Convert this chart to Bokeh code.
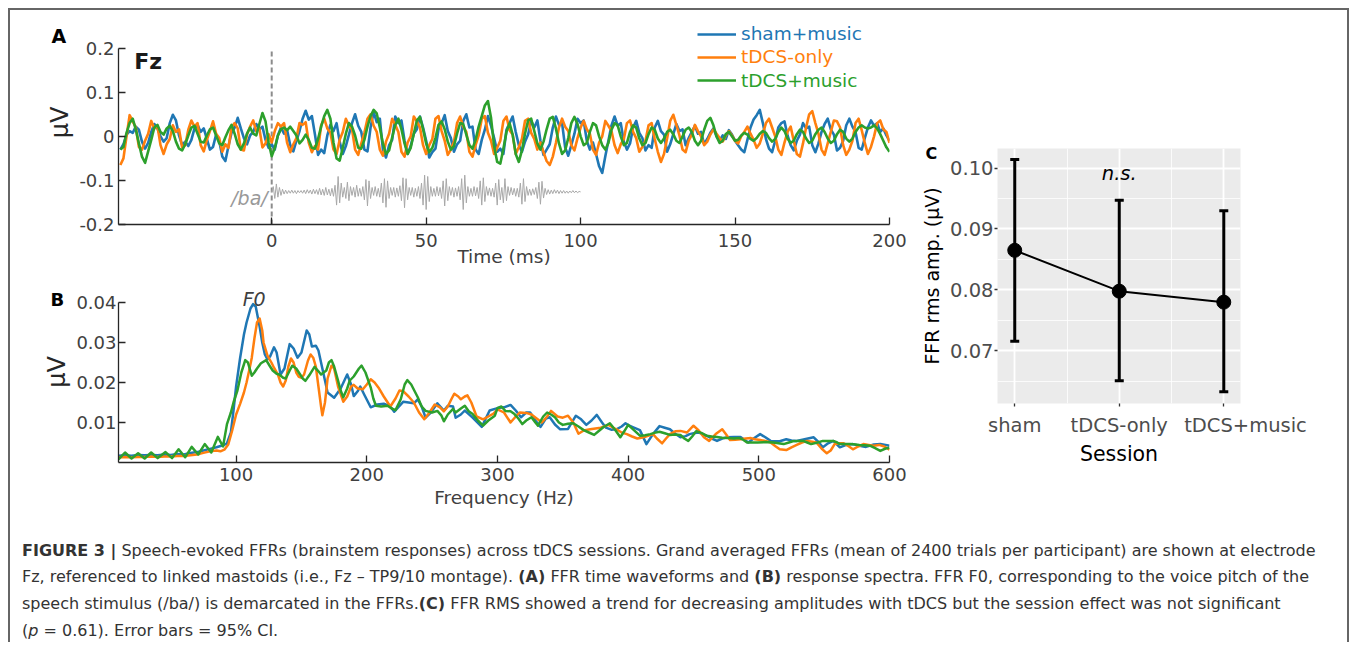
from bokeh.plotting import figure
from bokeh.models import (FixedTicker, CustomJSTickFormatter, PrintfTickFormatter, Legend, LegendItem,
                          Label, Whisker, TeeHead, Div, Range1d, ColumnDataSource)
from bokeh.layouts import row, column
from bokeh.embed import file_html
from bokeh.resources import INLINE

# ----------------------------------------------------------------- data
SERIES = ["sham+music", "tDCS-only", "tDCS+music"]
COLORS = ["#1f77b4", "#ff7f0e", "#2ca02c"]

# Panel A: grand-averaged FFR waveforms (uV), 1 ms samples from -49 to 200 ms
TIME_MS = list(range(-49, 201))
WAVE_SHAM = [
    -0.030, -0.018, 0.004, 0.012, 0.008, 0.022, 0.015, -0.012, -0.028, -0.015,
    0.010, 0.028, 0.018, 0.000, -0.012, -0.004, 0.030, 0.049, 0.036, 0.002,
    -0.020, -0.012, -0.022, -0.008, 0.018, 0.026, 0.010, 0.018, -0.006, -0.030,
    -0.024, 0.004, -0.010, -0.046, -0.056, -0.022, 0.008, 0.020, 0.042, 0.018,
    -0.004, -0.018, 0.002, 0.010, 0.028, 0.016, 0.022, -0.008, -0.026, -0.018,
    -0.030, 0.002, 0.020, 0.006, 0.014, -0.020, -0.034, -0.010, 0.012, 0.040,
    0.058, 0.038, 0.046, 0.004, -0.042, -0.030, -0.038, 0.002, 0.026, 0.012,
    0.030, -0.012, -0.040, -0.022, 0.004, 0.030, 0.050, 0.024, 0.010, -0.030,
    -0.034, 0.020, 0.055, 0.032, 0.040, -0.030, -0.048, -0.020, -0.008, 0.045,
    0.030, 0.036, -0.010, -0.040, -0.022, 0.006, 0.016, 0.045, 0.020, -0.010,
    -0.048, -0.036, -0.028, 0.016, 0.030, 0.048, 0.012, -0.004, -0.035, -0.018,
    -0.010, 0.035, 0.050, 0.020, 0.022, -0.030, -0.040, -0.008, 0.015, 0.046,
    0.024, -0.004, -0.035, -0.028, -0.040, 0.015, 0.030, 0.045, 0.010, -0.020,
    -0.035, -0.012, 0.004, 0.035, 0.020, 0.036, -0.010, -0.042, -0.030, -0.018,
    0.020, 0.045, 0.026, 0.030, -0.025, -0.044, -0.020, 0.006, 0.040, 0.030,
    0.036, -0.010, -0.030, -0.014, -0.040, -0.068, -0.083, -0.045, -0.010, 0.025,
    0.045, 0.024, 0.030, -0.012, -0.030, -0.016, 0.020, 0.035, 0.008, -0.004,
    -0.032, -0.020, -0.026, 0.020, 0.035, 0.012, 0.004, -0.035, -0.018, 0.005,
    0.028, 0.012, 0.016, -0.020, -0.004, 0.010, 0.024, 0.006, 0.010, -0.018,
    -0.006, 0.008, 0.018, 0.000, -0.010, 0.002, -0.006, 0.014, 0.004, -0.010,
    -0.020, -0.030, -0.036, -0.008, 0.020, 0.038, 0.048, 0.060, 0.030, -0.006,
    -0.028, -0.036, -0.010, 0.020, 0.030, 0.034, 0.002, -0.020, -0.032, -0.010,
    0.004, 0.030, 0.018, 0.022, -0.020, -0.036, -0.016, 0.010, 0.028, 0.040,
    0.016, 0.004, -0.032, -0.026, -0.010, 0.025, 0.040, 0.022, 0.010, -0.026,
    -0.030, -0.004, 0.020, 0.036, 0.024, 0.030, 0.010, 0.018, 0.002, -0.010,
]
WAVE_TDCS = [
    -0.065, -0.050, 0.000, 0.048, 0.034, 0.020, -0.024, -0.030, -0.010, 0.006,
    0.035, 0.018, 0.024, -0.020, -0.040, -0.018, -0.006, 0.025, 0.010, 0.016,
    -0.025, -0.020, 0.015, 0.036, 0.022, 0.030, -0.020, -0.034, -0.008, 0.012,
    0.034, 0.006, -0.004, -0.035, -0.018, -0.026, 0.020, 0.030, 0.018, -0.030,
    -0.032, 0.004, 0.022, 0.036, 0.012, 0.018, -0.025, -0.016, 0.005, -0.014,
    0.012, 0.030, 0.022, 0.030, -0.015, -0.036, -0.018, -0.004, 0.030, 0.026,
    0.032, -0.015, -0.036, -0.022, -0.030, 0.025, 0.040, 0.018, 0.008, -0.030,
    -0.040, -0.008, 0.010, 0.040, 0.024, 0.016, -0.030, -0.042, -0.016, 0.008,
    0.040, 0.050, 0.024, 0.010, -0.030, -0.044, -0.012, 0.006, 0.040, 0.026,
    0.010, -0.035, -0.046, -0.014, 0.000, 0.045, 0.034, 0.020, -0.020, -0.040,
    -0.020, -0.006, 0.040, 0.046, 0.012, -0.010, -0.042, -0.030, -0.012, 0.030,
    0.045, 0.022, 0.010, -0.035, -0.046, -0.020, 0.002, 0.040, 0.046, 0.008,
    -0.010, -0.040, -0.026, -0.010, 0.035, 0.045, 0.014, 0.004, -0.040, -0.024,
    -0.006, 0.035, 0.040, 0.008, -0.006, -0.030, -0.014, -0.036, -0.056, -0.065,
    -0.046, -0.015, 0.020, 0.040, 0.022, 0.012, -0.020, -0.032, -0.004, 0.020,
    0.035, 0.016, 0.006, -0.030, -0.042, -0.014, 0.000, 0.035, 0.024, 0.012,
    -0.020, -0.038, -0.018, -0.006, 0.030, 0.036, 0.010, -0.004, -0.035, -0.024,
    -0.010, 0.025, 0.030, -0.006, -0.035, -0.058, -0.040, -0.005, 0.035, 0.049,
    0.026, 0.002, -0.030, -0.036, -0.010, 0.004, 0.026, 0.012, 0.000, -0.020,
    -0.012, 0.004, 0.016, 0.006, -0.004, -0.012, 0.002, 0.012, 0.002, -0.010,
    -0.016, 0.000, 0.010, 0.022, 0.006, -0.008, -0.026, -0.016, 0.006, 0.030,
    0.040, 0.020, 0.000, -0.030, -0.042, -0.014, 0.010, 0.022, -0.010, -0.040,
    -0.046, -0.016, 0.020, 0.050, 0.057, 0.030, 0.006, -0.030, -0.042, -0.016,
    0.010, 0.036, 0.034, 0.020, -0.020, -0.042, -0.030, -0.010, 0.030, 0.040,
    0.014, -0.015, -0.040, -0.024, 0.000, 0.030, 0.036, 0.016, 0.010, -0.015,
]
WAVE_TDCS_MUSIC = [
    -0.030, -0.024, 0.008, 0.030, 0.040, 0.016, -0.016, -0.046, -0.060, -0.034,
    -0.008, 0.020, 0.026, 0.010, 0.004, 0.018, 0.024, 0.012, -0.012, -0.028,
    -0.032, -0.018, 0.002, 0.020, 0.024, 0.006, -0.012, -0.014, 0.002, 0.016,
    0.020, 0.002, -0.016, -0.020, -0.002, 0.014, 0.026, 0.006, -0.018, -0.030,
    -0.016, 0.006, 0.020, 0.006, 0.002, 0.028, 0.053, 0.034, -0.014, -0.045,
    -0.026, 0.002, 0.016, 0.020, 0.014, 0.022, 0.012, 0.002, -0.016, -0.008,
    0.004, -0.008, -0.026, -0.028, -0.006, 0.022, 0.046, 0.060, 0.040, -0.014,
    -0.050, -0.055, -0.026, 0.006, 0.030, 0.022, 0.002, -0.026, -0.028, -0.008,
    0.022, 0.046, 0.060, 0.052, 0.020, -0.016, -0.040, -0.032, -0.002, 0.026,
    0.040, 0.016, -0.016, -0.040, -0.026, 0.006, 0.036, 0.044, 0.016, -0.016,
    -0.036, -0.026, -0.004, 0.026, 0.034, 0.016, -0.012, -0.030, -0.022, 0.006,
    0.030, 0.028, 0.004, -0.020, -0.028, -0.008, 0.022, 0.046, 0.070, 0.080,
    0.042, -0.022, -0.058, -0.062, -0.028, 0.010, 0.030, 0.004, -0.040, -0.058,
    -0.032, 0.006, 0.036, 0.040, 0.012, -0.016, -0.030, -0.012, 0.016, 0.040,
    0.044, 0.018, -0.016, -0.040, -0.032, -0.004, 0.030, 0.044, 0.028, 0.000,
    -0.020, -0.015, 0.010, 0.030, 0.025, 0.000, -0.020, -0.030, -0.015, 0.015,
    0.030, 0.025, 0.000, -0.020, -0.015, 0.010, 0.025, 0.020, -0.005, -0.020,
    -0.015, 0.005, 0.020, 0.015, -0.005, -0.015, -0.005, 0.010, 0.015, 0.005,
    -0.010, -0.015, 0.000, 0.015, 0.020, 0.010, -0.010, -0.020, -0.010, 0.015,
    0.035, 0.042, 0.025, 0.000, -0.015, -0.010, 0.005, 0.010, 0.000, -0.010,
    -0.008, 0.002, 0.008, 0.004, -0.006, -0.010, -0.004, 0.006, 0.012, 0.008,
    -0.004, -0.012, -0.006, 0.010, 0.020, 0.012, -0.005, -0.015, -0.010, 0.005,
    0.015, 0.010, -0.005, -0.015, -0.010, 0.005, 0.015, 0.020, 0.010, -0.005,
    -0.015, -0.010, 0.005, 0.015, 0.010, -0.005, -0.012, -0.005, 0.010, 0.020,
    0.025, 0.020, 0.018, 0.020, 0.025, 0.018, 0.005, -0.010, -0.025, -0.035,
]

# /ba/ stimulus waveform (arbitrary amplitude), 0.5 ms samples from 0 to 100 ms
STIM_TIME_MS = [k * 0.5 for k in range(201)]
STIM_WAVE = [
    0.000, 0.012, -0.015, 0.018, -0.012, 0.010, -0.008, 0.006, -0.005, 0.004,
    -0.004, 0.003, -0.003, 0.004, -0.003, 0.003, -0.004, 0.003, -0.002, 0.003,
    -0.003, 0.004, -0.004, 0.005, -0.003, 0.004, -0.005, 0.006, -0.004, 0.005,
    -0.006, 0.008, -0.007, 0.006, -0.008, 0.010, -0.007, 0.006, -0.009, 0.008,
    -0.010, 0.015, -0.030, 0.035, -0.025, 0.020, -0.012, 0.010, -0.015, 0.022,
    -0.020, 0.012, -0.008, 0.010, -0.012, 0.015, -0.010, 0.008, -0.010, 0.012,
    -0.018, 0.028, -0.032, 0.025, -0.015, 0.010, -0.008, 0.012, -0.010, 0.008,
    -0.012, 0.020, -0.025, 0.030, -0.035, 0.025, -0.015, 0.010, -0.008, 0.010,
    -0.012, 0.009, -0.010, 0.014, -0.020, 0.032, -0.036, 0.030, -0.018, 0.010,
    -0.008, 0.010, -0.012, 0.008, -0.010, 0.012, -0.015, 0.020, -0.030, 0.038,
    -0.040, 0.035, -0.022, 0.012, -0.010, 0.008, -0.010, 0.012, -0.009, 0.010,
    -0.015, 0.025, -0.032, 0.030, -0.020, 0.012, -0.008, 0.010, -0.012, 0.009,
    -0.010, 0.012, -0.018, 0.030, -0.040, 0.038, -0.025, 0.012, -0.010, 0.008,
    -0.010, 0.012, -0.009, 0.010, -0.015, 0.025, -0.030, 0.032, -0.022, 0.012,
    -0.008, 0.009, -0.010, 0.008, -0.012, 0.020, -0.030, 0.028, -0.018, 0.010,
    -0.025, 0.030, -0.020, 0.012, -0.008, 0.010, -0.007, 0.008, -0.010, 0.008,
    -0.012, 0.020, -0.028, 0.030, -0.022, 0.012, -0.008, 0.006, -0.008, 0.007,
    -0.006, 0.010, -0.015, 0.022, -0.028, 0.024, -0.014, 0.008, -0.006, 0.005,
    -0.005, 0.004, -0.004, 0.005, -0.003, 0.004, -0.004, 0.003, -0.003, 0.003,
    -0.003, 0.002, -0.003, 0.002, -0.002, 0.003, -0.002, 0.002, -0.002, 0.001,
    0.000,
]

# Panel B: response spectra, (frequency Hz, amplitude uV)
SPEC_SHAM = [
    (10, .0017), (15, .0018), (20, .0017), (25, .0019), (30, .0018), (35, .0019), (40, .0018), (45, .0020),
    (50, .0019), (55, .0021), (60, .0020), (65, .0024), (70, .0026), (75, .0030), (80, .0034), (85, .0038),
    (90, .0043), (93, .0048), (96, .0075), (98, .0130), (100, .0190), (103, .0260), (106, .0320), (108, .0350),
    (111, .0385), (113, .0396), (115, .0390), (118, .0340), (120, .0300), (122, .0270), (124, .0258), (126, .0265),
    (129, .0288), (131, .0275), (134, .0220), (137, .0235), (141, .0296), (144, .0285), (147, .0262), (150, .0275),
    (154, .0330), (156, .0320), (158, .0290), (161, .0292), (163, .0280), (166, .0235), (170, .0175), (175, .0162),
    (180, .0185), (185, .0220), (188, .0195), (190, .0166), (193, .0178), (195, .0190), (198, .0170), (203, .0138),
    (208, .0145), (213, .0147), (218, .0140), (221, .0127), (224, .0138), (228, .0152), (232, .0150), (236, .0148),
    (239, .0158), (242, .0140), (245, .0112), (249, .0125), (254, .0148), (259, .0130), (262, .0142), (266, .0140),
    (268, .0112), (272, .0120), (275, .0130), (281, .0112), (288, .0089), (294, .0130), (300, .0136), (305, .0138),
    (310, .0144), (314, .0130), (318, .0113), (322, .0125), (325, .0125), (329, .0105), (333, .0089), (337, .0110),
    (340, .0113), (344, .0095), (348, .0083), (354, .0084), (360, .0117), (364, .0108), (368, .0094), (372, .0105),
    (376, .0119), (380, .0100), (383, .0087), (387, .0082), (391, .0083), (395, .0090), (398, .0098), (401, .0092),
    (404, .0088), (409, .0081), (414, .0046), (419, .0071), (424, .0091), (428, .0087), (432, .0083), (436, .0072),
    (440, .0063), (444, .0066), (447, .0071), (451, .0074), (454, .0075), (457, .0070), (460, .0067), (464, .0060),
    (468, .0054), (472, .0060), (476, .0063), (481, .0064), (486, .0064), (492, .0050), (496, .0060), (501, .0071),
    (505, .0063), (509, .0054), (516, .0053), (521, .0058), (525, .0055), (529, .0054), (535, .0058), (542, .0063),
    (546, .0050), (549, .0038), (553, .0048), (557, .0054), (562, .0038), (567, .0044), (572, .0046), (577, .0042),
    (582, .0039), (588, .0045), (593, .0046), (597, .0044), (600, .0042),
]
SPEC_TDCS = [
    (10, .0013), (15, .0014), (20, .0013), (25, .0014), (30, .0014), (35, .0015), (40, .0014), (45, .0015),
    (50, .0015), (55, .0016), (60, .0016), (65, .0018), (70, .0020), (75, .0024), (80, .0028), (85, .0030),
    (88, .0028), (91, .0032), (94, .0045), (97, .0080), (100, .0120), (103, .0146), (106, .0175), (108, .0200),
    (110, .0230), (112, .0262), (114, .0310), (116, .0350), (118, .0360), (120, .0330), (121, .0300), (124, .0267),
    (127, .0250), (129, .0237), (132, .0220), (134, .0200), (136, .0190), (138, .0205), (140, .0240), (142, .0260),
    (144, .0250), (146, .0225), (148, .0214), (150, .0212), (152, .0220), (155, .0255), (157, .0270), (159, .0262),
    (161, .0240), (163, .0190), (165, .0140), (166, .0118), (168, .0150), (170, .0210), (173, .0242), (175, .0235),
    (178, .0190), (182, .0152), (185, .0165), (188, .0190), (190, .0194), (193, .0185), (197, .0183), (200, .0195),
    (203, .0208), (206, .0200), (209, .0187), (213, .0165), (218, .0140), (222, .0160), (225, .0180), (228, .0178),
    (232, .0165), (236, .0150), (240, .0125), (244, .0108), (248, .0125), (252, .0145), (256, .0138), (259, .0128),
    (262, .0140), (265, .0160), (267, .0172), (270, .0165), (272, .0158), (275, .0165), (277, .0168), (280, .0150),
    (284, .0115), (289, .0108), (293, .0115), (297, .0122), (300, .0133), (305, .0125), (310, .0100), (314, .0115),
    (317, .0125), (322, .0124), (326, .0120), (330, .0110), (334, .0100), (338, .0115), (341, .0129), (346, .0115),
    (350, .0112), (354, .0117), (358, .0100), (362, .0072), (366, .0080), (371, .0083), (375, .0085), (379, .0087),
    (385, .0094), (388, .0088), (391, .0083), (395, .0075), (399, .0071), (403, .0065), (407, .0060), (410, .0062),
    (413, .0064), (419, .0071), (422, .0060), (426, .0048), (429, .0060), (432, .0071), (436, .0078), (440, .0079),
    (445, .0075), (450, .0092), (454, .0080), (458, .0063), (462, .0054), (467, .0071), (472, .0083), (475, .0070),
    (478, .0056), (482, .0057), (486, .0058), (490, .0060), (494, .0061), (497, .0058), (501, .0056), (505, .0054),
    (509, .0050), (513, .0040), (516, .0033), (521, .0031), (525, .0038), (529, .0044), (533, .0050), (537, .0054),
    (541, .0052), (544, .0050), (548, .0035), (552, .0023), (555, .0030), (558, .0046), (562, .0048), (565, .0048),
    (569, .0040), (572, .0033), (576, .0040), (580, .0046), (584, .0044), (588, .0042), (592, .0044), (596, .0040),
    (600, .0032),
]
SPEC_TDCS_MUSIC = [
    (10, .0008), (15, .0025), (20, .0010), (25, .0023), (30, .0010), (35, .0025), (40, .0011), (46, .0026),
    (51, .0011), (56, .0033), (61, .0013), (66, .0039), (71, .0020), (76, .0046), (81, .0025), (86, .0064),
    (90, .0040), (93, .0096), (96, .0125), (98, .0150), (101, .0180), (104, .0225), (107, .0256), (109, .0250),
    (112, .0217), (114, .0225), (116, .0235), (119, .0248), (123, .0256), (126, .0240), (128, .0230), (131, .0222),
    (133, .0220), (136, .0212), (138, .0210), (141, .0230), (143, .0242), (146, .0235), (148, .0225), (151, .0210),
    (153, .0204), (156, .0218), (160, .0239), (163, .0228), (165, .0220), (169, .0230), (171, .0250), (173, .0256),
    (175, .0240), (178, .0205), (180, .0180), (182, .0163), (185, .0185), (187, .0205), (190, .0215), (194, .0235),
    (196, .0242), (199, .0225), (203, .0188), (205, .0160), (207, .0142), (211, .0140), (216, .0142), (219, .0135),
    (222, .0131), (226, .0158), (229, .0195), (231, .0206), (234, .0195), (239, .0163), (242, .0140), (245, .0129),
    (250, .0125), (254, .0129), (257, .0118), (259, .0103), (262, .0120), (266, .0134), (268, .0125), (272, .0135),
    (275, .0142), (278, .0128), (281, .0121), (285, .0105), (289, .0092), (293, .0105), (298, .0117), (300, .0136),
    (303, .0140), (306, .0129), (310, .0128), (313, .0121), (316, .0110), (319, .0096), (322, .0105), (326, .0113),
    (329, .0100), (331, .0092), (335, .0115), (338, .0125), (341, .0120), (344, .0113), (347, .0100), (350, .0094),
    (354, .0097), (358, .0098), (362, .0090), (366, .0081), (370, .0075), (374, .0069), (378, .0080), (381, .0088),
    (386, .0098), (390, .0082), (394, .0063), (397, .0078), (400, .0094), (404, .0082), (409, .0067), (413, .0068),
    (417, .0071), (420, .0074), (424, .0077), (428, .0073), (432, .0069), (436, .0070), (440, .0069), (443, .0060),
    (446, .0054), (449, .0065), (452, .0078), (456, .0074), (460, .0067), (464, .0065), (468, .0064), (472, .0062),
    (476, .0061), (481, .0060), (485, .0061), (488, .0057), (491, .0050), (495, .0050), (499, .0050), (505, .0051),
    (511, .0050), (515, .0048), (519, .0046), (523, .0050), (526, .0053), (530, .0054), (534, .0054), (537, .0050),
    (540, .0046), (545, .0050), (549, .0054), (553, .0054), (557, .0054), (560, .0050), (562, .0046), (566, .0046),
    (570, .0046), (574, .0045), (577, .0044), (581, .0043), (585, .0042), (589, .0036), (593, .0029), (597, .0035),
    (600, .0037),
]

# Panel C: FFR RMS amplitude by session (uV), 95% CI
SESSIONS = ["sham", "tDCS-only", "tDCS+music"]
SESSION_POS = [1, 2, 3]
RMS_MEAN = [0.0865, 0.0798, 0.0780]
RMS_CI_LOW = [0.0716, 0.0651, 0.0633]
RMS_CI_HIGH = [0.1014, 0.0947, 0.0930]

A_XTICKS = [0, 50, 100, 150, 200]
A_YTICKS = [-0.2, -0.1, 0, 0.1, 0.2]
B_XTICKS = [100, 200, 300, 400, 500, 600]
B_YTICKS = [0.01, 0.02, 0.03, 0.04]
C_YTICKS = [0.07, 0.08, 0.09, 0.10]
C_YMINOR = [0.065, 0.075, 0.085, 0.095]

# ----------------------------------------------------------------- styling
FONT = "DejaVu Sans"
AXIS_COL = "#262626"
TICK_TXT = "#404040"


def matlab_axes(p, ylab, xlab, y_standoff, x_standoff, ylab_standoff, xlab_standoff, ybounds):
    for ax in (p.xaxis[0], p.yaxis[0]):
        ax.axis_line_color = AXIS_COL
        ax.axis_line_width = 1.3
        ax.major_tick_line_color = AXIS_COL
        ax.major_tick_line_width = 1.3
        ax.major_tick_in = 7
        ax.major_tick_out = 0
        ax.minor_tick_line_color = None
        ax.major_label_text_font = FONT
        ax.major_label_text_font_size = "18px"
        ax.major_label_text_color = TICK_TXT
        ax.axis_label_text_font = FONT
        ax.axis_label_text_font_style = "normal"
        ax.axis_label_text_color = TICK_TXT
    p.yaxis[0].bounds = ybounds
    p.yaxis[0].axis_label = ylab
    p.yaxis[0].axis_label_text_font_size = "24px"
    p.yaxis[0].axis_label_text_color = AXIS_COL
    p.xaxis[0].axis_label = xlab
    p.xaxis[0].axis_label_text_font_size = "18.5px"
    p.yaxis[0].major_label_standoff = y_standoff
    p.xaxis[0].major_label_standoff = x_standoff
    p.yaxis[0].axis_label_standoff = ylab_standoff
    p.xaxis[0].axis_label_standoff = xlab_standoff
    p.grid.visible = False


def panel_letter(p, size, offset, standoff):
    t = p.title
    t.text_font = FONT
    t.text_font_size = size
    t.text_font_style = "bold"
    t.text_color = "black"
    t.align = "left"
    t.offset = offset
    t.standoff = standoff


# ----------------------------------------------------------------- panel A
# frame extends above 0.2 so that the legend and labels are inside it; axis bounded to [-0.2, 0.2]
pA = figure(width=899, height=260, x_range=Range1d(-49.6, 200), y_range=Range1d(-0.2, 0.2628),
            title="A", output_backend="svg", toolbar_location=None, min_border_left=107,
            min_border_right=20, min_border_top=10, min_border_bottom=46, outline_line_color=None)
matlab_axes(pA, "μV", "Time (ms)", 4, 9, 2, -4, (-0.2, 0.2))
pA.xaxis.ticker = FixedTicker(ticks=A_XTICKS)
pA.yaxis.ticker = FixedTicker(ticks=A_YTICKS)
pA.yaxis.formatter = CustomJSTickFormatter(code="return Math.abs(tick) < 1e-9 ? '0' : tick.toFixed(1);")
panel_letter(pA, "19px", -67, -53)

STIM_ONSET = 0
pA.segment(x0=[STIM_ONSET], y0=[-0.2], x1=[STIM_ONSET], y1=[0.193], line_color="#8c8c8c",
           line_width=2, line_dash="5 3")
STIM_BASELINE = -0.126
pA.line(STIM_TIME_MS, [STIM_BASELINE + v for v in STIM_WAVE], line_color="#a8a8a8", line_width=1)

rendsA = []
for wave, col in zip([WAVE_SHAM, WAVE_TDCS, WAVE_TDCS_MUSIC], COLORS):
    rendsA.append(pA.line(TIME_MS, wave, line_color=col, line_width=2.6, line_join="round"))

LEG_VY = [180, 156.6, 133.3]
for r, name, col, vy in zip(rendsA, SERIES, COLORS, LEG_VY):
    pA.add_layout(Legend(items=[LegendItem(label=name, renderers=[r])], location=(579, vy),
                         label_text_color=col, label_text_font=FONT, label_text_font_size="18.5px",
                         glyph_width=39, glyph_height=20, label_height=20, label_standoff=5,
                         padding=0, margin=0, spacing=0, border_line_color=None,
                         background_fill_alpha=0))

pA.add_layout(Label(x=-44.5, y=0.170, text="Fz", text_font=FONT, text_font_size="22px",
                    text_font_style="bold", text_color="#1a1a1a", text_baseline="alphabetic"))
pA.add_layout(Label(x=-1.3, y=-0.139, text="/ba/", text_font=FONT, text_font_size="19px",
                    text_font_style="italic", text_color="#999999", text_align="right",
                    text_baseline="alphabetic"))

# ----------------------------------------------------------------- panel B
pB = figure(width=899, height=242, x_range=Range1d(10, 600), y_range=Range1d(0, 0.04525),
            title="B", output_backend="svg", toolbar_location=None, min_border_left=108,
            min_border_right=19, min_border_top=11, min_border_bottom=50, outline_line_color=None)
matlab_axes(pB, "μV", "Frequency (Hz)", 2, 5, 2, 3, (0, 0.04))
pB.xaxis.ticker = FixedTicker(ticks=B_XTICKS)
pB.yaxis.ticker = FixedTicker(ticks=B_YTICKS)
pB.yaxis.formatter = PrintfTickFormatter(format="%.2f")
panel_letter(pB, "18px", -68, -56)

for spec, col in zip([SPEC_SHAM, SPEC_TDCS, SPEC_TDCS_MUSIC], COLORS):
    pB.line([f for f, v in spec], [v for f, v in spec], line_color=col, line_width=2.5,
            line_join="round")

pB.add_layout(Label(x=113.8, y=0.04085, text="F0", text_font=FONT, text_font_size="19px",
                    text_font_style="italic", text_color=TICK_TXT, text_align="center",
                    text_baseline="alphabetic"))

# ----------------------------------------------------------------- panel C
pC = figure(width=438, height=460, x_range=Range1d(0.835, 3.16), y_range=Range1d(0.06138, 0.1032),
            title="C", output_backend="svg", toolbar_location=None, min_border_left=88,
            min_border_right=107, min_border_top=138, min_border_bottom=67, outline_line_color=None,
            background_fill_color="#EBEBEB")
panel_letter(pC, "16px", -72, -29)
for ax in (pC.xaxis[0], pC.yaxis[0]):
    ax.axis_line_color = None
    ax.major_tick_line_color = "#333333"
    ax.major_tick_line_width = 1.3
    ax.major_tick_in = 0
    ax.major_tick_out = 3
    ax.minor_tick_line_color = None
    ax.major_label_text_font = FONT
    ax.major_label_text_font_size = "19.5px"
    ax.major_label_text_color = "#4D4D4D"
    ax.axis_label_text_font = FONT
    ax.axis_label_text_font_style = "normal"
    ax.axis_label_text_color = "black"
pC.xaxis.ticker = FixedTicker(ticks=SESSION_POS)
# the last category label sits a little right of its tick in the reference
C_XLABELS = [SESSIONS[0], SESSIONS[1], "\u00a0" * 7 + SESSIONS[2]]
pC.xaxis.major_label_overrides = dict(zip(SESSION_POS, C_XLABELS))
pC.yaxis.ticker = FixedTicker(ticks=C_YTICKS)
pC.yaxis.formatter = PrintfTickFormatter(format="%.2f")
pC.xaxis.axis_label = "Session"
pC.xaxis.axis_label_text_font_size = "20.5px"
pC.yaxis.axis_label = "FFR rms amp. (μV)"
pC.yaxis.axis_label_text_font_size = "19px"
pC.xaxis.major_label_standoff = 7
pC.yaxis.major_label_standoff = 1
pC.xaxis.axis_label_standoff = 2
pC.yaxis.axis_label_standoff = 4
pC.xgrid.ticker = FixedTicker(ticks=SESSION_POS, minor_ticks=[1.5, 2.5])
pC.ygrid.ticker = FixedTicker(ticks=C_YTICKS, minor_ticks=C_YMINOR)
pC.grid.grid_line_color = "white"
pC.grid.grid_line_width = 1.8
pC.grid.minor_grid_line_color = "white"
pC.grid.minor_grid_line_width = 0.8

srcC = ColumnDataSource(dict(x=SESSION_POS, mean=RMS_MEAN, lo=RMS_CI_LOW, hi=RMS_CI_HIGH))
pC.add_layout(Whisker(source=srcC, base="x", upper="hi", lower="lo", dimension="height",
                      line_color="black", line_width=3,
                      upper_head=TeeHead(size=9, line_color="black", line_width=3),
                      lower_head=TeeHead(size=9, line_color="black", line_width=3)))
pC.line("x", "mean", source=srcC, line_color="black", line_width=2)
pC.scatter("x", "mean", source=srcC, size=14, color="black")

pC.add_layout(Label(x=2, y=0.0991, text="n.s.", text_font=FONT, text_font_size="19.5px",
                    text_font_style="italic", text_color="black", text_align="center",
                    text_baseline="alphabetic"))

# ----------------------------------------------------------------- caption
CAPTION = (
    '<div style="font-family:\'DejaVu Sans\',sans-serif;font-size:16px;color:#333;'
    'line-height:26.7px;padding:25.7px 0 0 12px;white-space:nowrap;">'
    '<b>FIGURE 3 |</b> Speech-evoked FFRs (brainstem responses) across tDCS sessions. Grand averaged '
    'FFRs (mean of 2400 trials per participant) are shown at electrode<br>'
    'Fz, referenced to linked mastoids (i.e., Fz \u2013 TP9/10 montage). <b>(A)</b> FFR time waveforms '
    'and <b>(B)</b> response spectra. FFR F0, corresponding to the voice pitch of the<br>'
    'speech stimulus (/ba/) is demarcated in the FFRs.<b>(C)</b> FFR RMS showed a trend for decreasing '
    'amplitudes with tDCS but the session effect was not significant<br>'
    '(<i>p</i> = 0.61). Error bars = 95% CI.</div>'
)
caption = Div(text=CAPTION, width=1337, height=130, margin=0)

layout = column(row(column(pA, pB), pC), caption, margin=(8, 0, 0, 8),
                styles={"border-top": "2px solid #666666", "border-left": "2px solid #666666",
                        "border-right": "2px solid #666666"})

open("out.html", "w").write(file_html(layout, INLINE, "Figure 3"))
